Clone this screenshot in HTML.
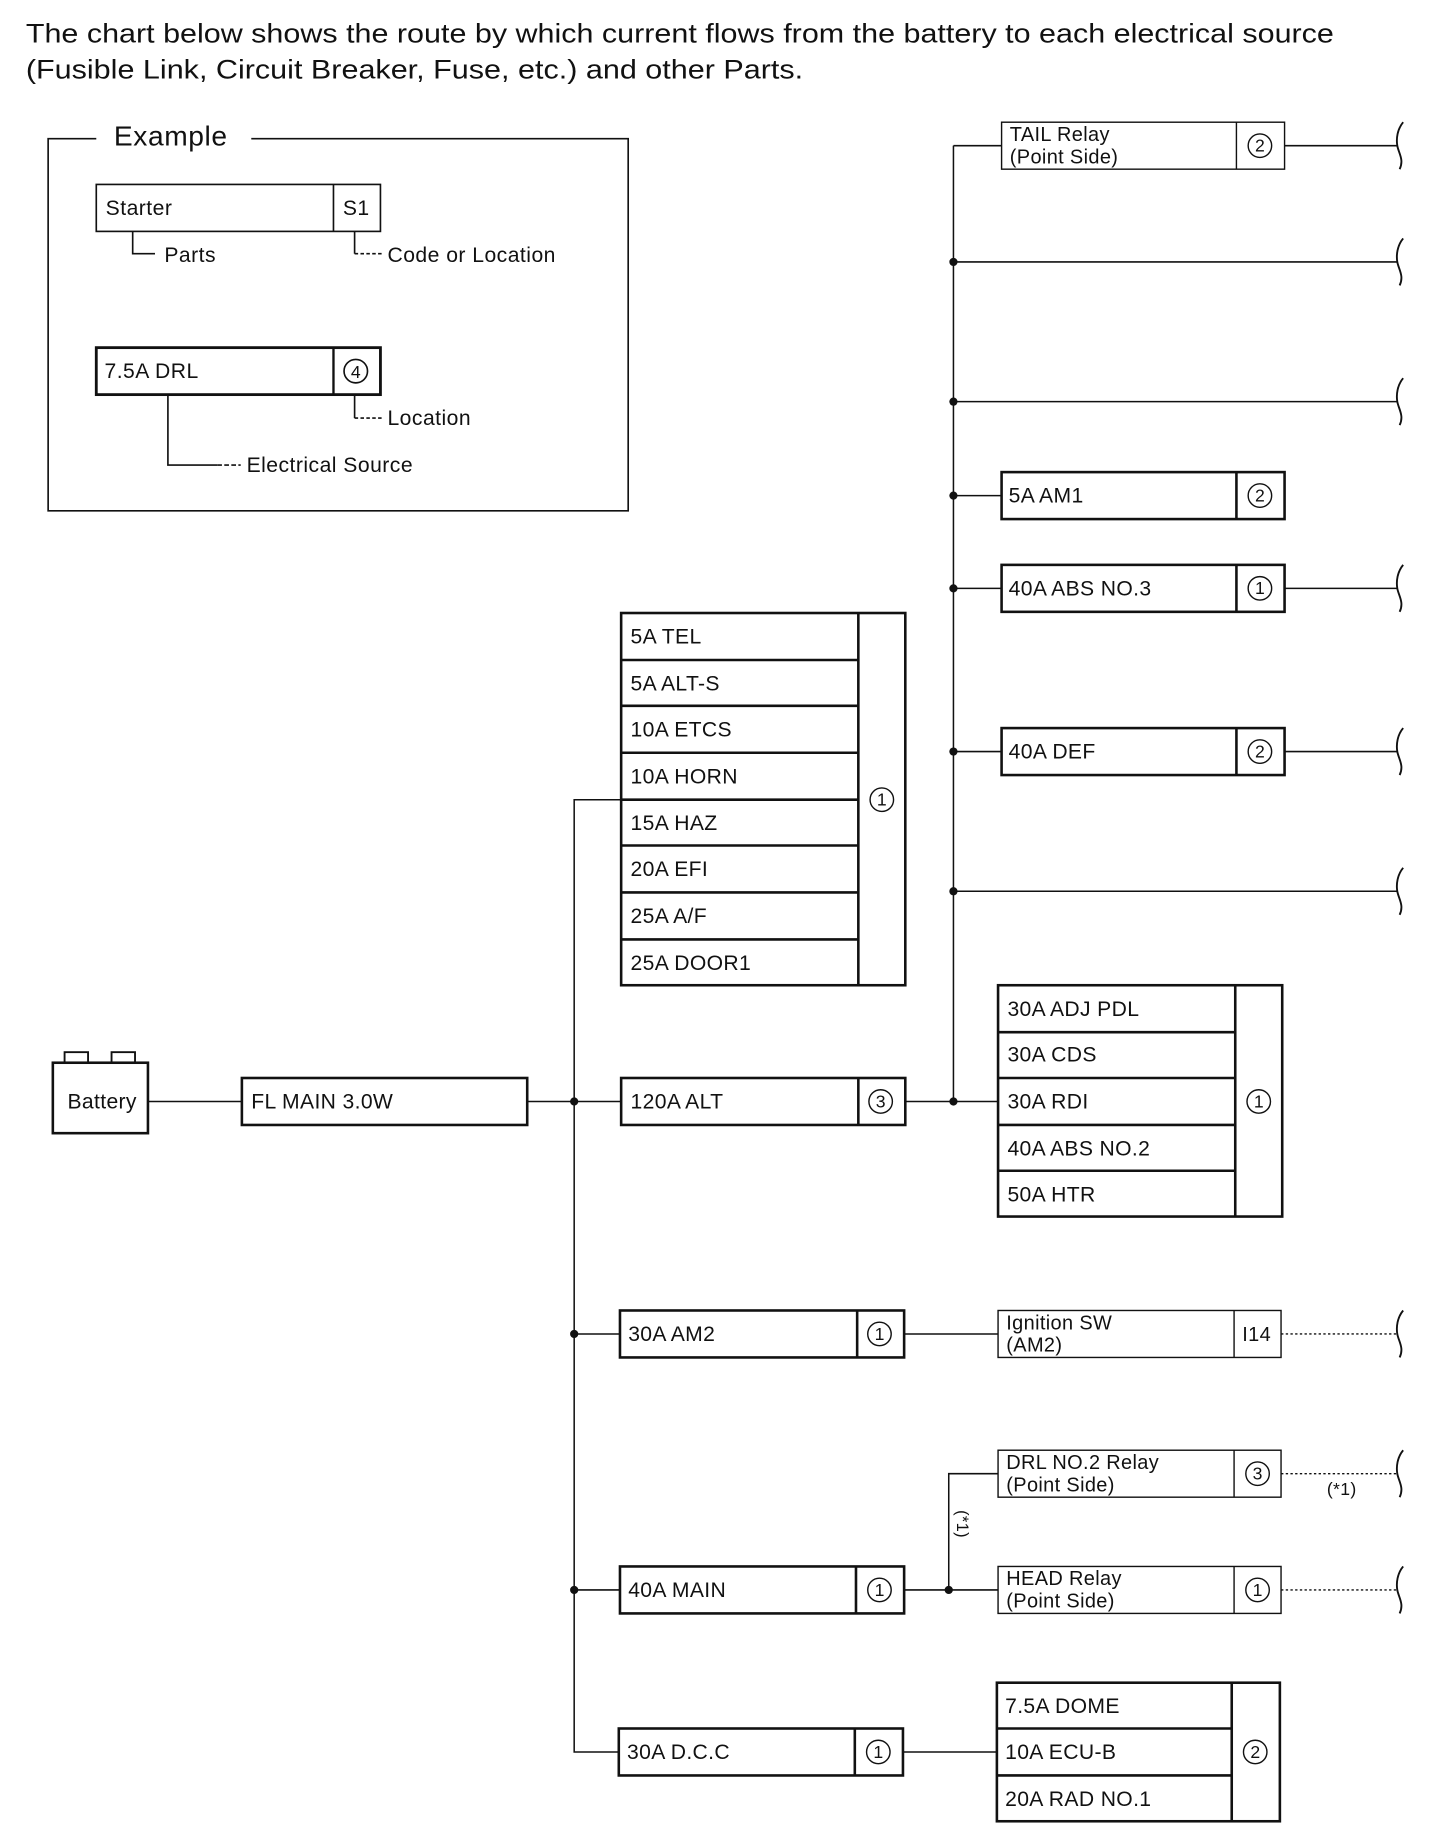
<!DOCTYPE html>
<html><head><meta charset="utf-8"><style>
html,body{margin:0;padding:0;background:#fff;}
svg{display:block;}
text{font-family:"Liberation Sans",Arial,sans-serif;fill:#111;}
</style></head><body>
<svg width="1456" height="1846" viewBox="0 0 1240 1572" xmlns="http://www.w3.org/2000/svg">
<defs>
<g id="sq"><path d="M5,-20 C0,-14 -1,-6 0,0 C1,6 6,12 2,20" fill="none" stroke="#111" stroke-width="1.6"/></g>
</defs>
<g font-size="22.5">
<text x="22" y="36" textLength="1114" lengthAdjust="spacingAndGlyphs">The chart below shows the route by which current flows from the battery to each electrical source</text>
<text x="22" y="67" textLength="662" lengthAdjust="spacingAndGlyphs">(Fusible Link, Circuit Breaker, Fuse, etc.) and other Parts.</text>
</g>
<g fill="none" stroke="#111" stroke-width="1.4">
<path d="M82,118 H41 V435 H535 V118 H214"/>
<rect x="82" y="157" width="242" height="40"/><line x1="284" y1="157" x2="284" y2="197"/>
<path d="M113,197 V216 H132"/>
<path d="M302,197 V216"/><path d="M302,216 H325" stroke-dasharray="3,2"/>
<rect x="82" y="296" width="242" height="40" stroke-width="2.4"/><line x1="284" y1="296" x2="284" y2="336" stroke-width="2"/>
<circle cx="303" cy="316" r="10"/>
<path d="M302,336 V356"/><path d="M302,356 H325" stroke-dasharray="3,2"/>
<path d="M143,336 V396 H185"/><path d="M185,396 H205" stroke-dasharray="4,2"/>
</g>
<text x="97" y="124" font-size="24" letter-spacing="0.5">Example</text>
<g font-size="18" letter-spacing="0.4">
<text x="90" y="183">Starter</text><text x="292" y="183">S1</text>
<text x="140" y="223">Parts</text><text x="330" y="223">Code or Location</text>
<text x="89" y="322">7.5A DRL</text><text x="303" y="322" text-anchor="middle" font-size="15" letter-spacing="0">4</text>
<text x="330" y="362">Location</text><text x="210" y="402">Electrical Source</text>
</g>

<g stroke="#111" stroke-width="1.3" fill="none">
<line x1="812" y1="124" x2="812" y2="938"/>
<line x1="812" y1="124" x2="853" y2="124"/>
<line x1="1094" y1="124" x2="1190" y2="124"/>
<line x1="812" y1="223" x2="1190" y2="223"/>
<line x1="812" y1="342" x2="1190" y2="342"/>
<line x1="812" y1="422" x2="853" y2="422"/>
<line x1="812" y1="501" x2="853" y2="501"/><line x1="1094" y1="501" x2="1190" y2="501"/>
<line x1="812" y1="640" x2="853" y2="640"/><line x1="1094" y1="640" x2="1190" y2="640"/>
<line x1="812" y1="759" x2="1190" y2="759"/>
<path d="M529,681 H489 V1492 H528"/>
<line x1="126" y1="938" x2="206" y2="938"/>
<line x1="449" y1="938" x2="529" y2="938"/>
<line x1="771" y1="938" x2="850" y2="938"/>
<line x1="489" y1="1136" x2="528" y2="1136"/>
<line x1="770" y1="1136" x2="850" y2="1136"/>
<line x1="489" y1="1354" x2="528" y2="1354"/>
<line x1="770" y1="1354" x2="850" y2="1354"/>
<path d="M850,1255 H808 V1354"/>
<line x1="769" y1="1492" x2="849" y2="1492"/>
</g>
<g stroke="#111" stroke-width="1.2" stroke-dasharray="2,2">
<line x1="1091" y1="1136" x2="1190" y2="1136"/>
<line x1="1091" y1="1255" x2="1190" y2="1255"/>
<line x1="1091" y1="1354" x2="1190" y2="1354"/>
</g>
<g fill="#111">
<circle cx="812" cy="223" r="3.5"/><circle cx="812" cy="342" r="3.5"/><circle cx="812" cy="422" r="3.5"/>
<circle cx="812" cy="501" r="3.5"/><circle cx="812" cy="640" r="3.5"/><circle cx="812" cy="759" r="3.5"/>
<circle cx="812" cy="938" r="3.5"/><circle cx="489" cy="938" r="3.5"/><circle cx="489" cy="1136" r="3.5"/>
<circle cx="489" cy="1354" r="3.5"/><circle cx="808" cy="1354" r="3.5"/>
</g>
<g>
<use href="#sq" x="1190" y="124"/><use href="#sq" x="1190" y="223"/><use href="#sq" x="1190" y="342"/>
<use href="#sq" x="1190" y="501"/><use href="#sq" x="1190" y="640"/><use href="#sq" x="1190" y="759"/>
<use href="#sq" x="1190" y="1136"/><use href="#sq" x="1190" y="1255"/><use href="#sq" x="1190" y="1354"/>
</g>

<g fill="none" stroke="#111">
<g stroke-width="1.2">
<rect x="853" y="104" width="241" height="40"/><line x1="1053" y1="104" x2="1053" y2="144"/>
<rect x="850" y="1116" width="241" height="40"/><line x1="1051" y1="1116" x2="1051" y2="1156"/>
<rect x="850" y="1235" width="241" height="40"/><line x1="1051" y1="1235" x2="1051" y2="1275"/>
<rect x="850" y="1334" width="241" height="40"/><line x1="1051" y1="1334" x2="1051" y2="1374"/>
</g>
<g stroke-width="2.2">
<rect x="853" y="402" width="241" height="40"/><line x1="1053" y1="402" x2="1053" y2="442"/>
<rect x="853" y="481" width="241" height="40"/><line x1="1053" y1="481" x2="1053" y2="521"/>
<rect x="853" y="620" width="241" height="40"/><line x1="1053" y1="620" x2="1053" y2="660"/>
<rect x="529" y="522" width="242" height="317"/><line x1="731" y1="522" x2="731" y2="839"/>
<line x1="529" y1="562" x2="731" y2="562"/><line x1="529" y1="601" x2="731" y2="601"/>
<line x1="529" y1="641" x2="731" y2="641"/><line x1="529" y1="681" x2="731" y2="681"/>
<line x1="529" y1="720" x2="731" y2="720"/><line x1="529" y1="760" x2="731" y2="760"/>
<line x1="529" y1="800" x2="731" y2="800"/>
<rect x="45" y="905" width="81" height="60"/>
<rect x="55" y="896" width="20" height="9" stroke-width="1.6"/><rect x="95" y="896" width="20" height="9" stroke-width="1.6"/>
<rect x="206" y="918" width="243" height="40"/>
<rect x="529" y="918" width="242" height="40"/><line x1="731" y1="918" x2="731" y2="958"/>
<rect x="850" y="839" width="242" height="197"/><line x1="1052" y1="839" x2="1052" y2="1036"/>
<line x1="850" y1="879" x2="1052" y2="879"/><line x1="850" y1="918" x2="1052" y2="918"/>
<line x1="850" y1="958" x2="1052" y2="958"/><line x1="850" y1="997" x2="1052" y2="997"/>
<rect x="528" y="1116" width="242" height="40"/><line x1="730" y1="1116" x2="730" y2="1156"/>
<rect x="528" y="1334" width="242" height="40"/><line x1="729" y1="1334" x2="729" y2="1374"/>
<rect x="527" y="1472" width="242" height="40"/><line x1="728" y1="1472" x2="728" y2="1512"/>
<rect x="849" y="1433" width="241" height="118"/><line x1="1049" y1="1433" x2="1049" y2="1551"/>
<line x1="849" y1="1472" x2="1049" y2="1472"/><line x1="849" y1="1512" x2="1049" y2="1512"/>
</g>
<g stroke-width="1.2">
<circle cx="1073" cy="124" r="10"/><circle cx="1073" cy="422" r="10"/><circle cx="1073" cy="501" r="10"/>
<circle cx="1073" cy="640" r="10"/><circle cx="751" cy="681" r="10"/><circle cx="750" cy="938" r="10"/>
<circle cx="1072" cy="938" r="10"/><circle cx="749" cy="1136" r="10"/><circle cx="1071" cy="1255" r="10"/>
<circle cx="749" cy="1354" r="10"/><circle cx="1071" cy="1354" r="10"/><circle cx="748" cy="1492" r="10"/>
<circle cx="1069" cy="1492" r="10"/>
</g>
</g>
<g font-size="15" text-anchor="middle">
<text x="1073" y="129">2</text><text x="1073" y="427">2</text><text x="1073" y="506">1</text>
<text x="1073" y="645">2</text><text x="751" y="686">1</text><text x="750" y="943">3</text>
<text x="1072" y="943">1</text><text x="749" y="1141">1</text><text x="1071" y="1260">3</text>
<text x="749" y="1359">1</text><text x="1071" y="1359">1</text><text x="748" y="1497">1</text>
<text x="1069" y="1497">2</text>
</g>
<g font-size="18" letter-spacing="0.3">
<text x="860" y="120" font-size="17">TAIL Relay</text><text x="860" y="139" font-size="17">(Point Side)</text>
<text x="859" y="428">5A AM1</text><text x="859" y="507">40A ABS NO.3</text><text x="859" y="646">40A DEF</text>
<text x="537" y="548">5A TEL</text><text x="537" y="588">5A ALT-S</text><text x="537" y="627">10A ETCS</text>
<text x="537" y="667">10A HORN</text><text x="537" y="707">15A HAZ</text><text x="537" y="746">20A EFI</text>
<text x="537" y="786">25A A/F</text><text x="537" y="826">25A DOOR1</text>
<text x="87" y="944" text-anchor="middle">Battery</text>
<text x="214" y="944">FL MAIN 3.0W</text><text x="537" y="944">120A ALT</text>
<text x="858" y="865">30A ADJ PDL</text><text x="858" y="904">30A CDS</text><text x="858" y="944">30A RDI</text>
<text x="858" y="984">40A ABS NO.2</text><text x="858" y="1023">50A HTR</text>
<text x="535" y="1142">30A AM2</text>
<text x="857" y="1132" font-size="17">Ignition SW</text><text x="857" y="1151" font-size="17">(AM2)</text>
<text x="1058" y="1142" font-size="17">I14</text>
<text x="857" y="1251" font-size="17">DRL NO.2 Relay</text><text x="857" y="1270" font-size="17">(Point Side)</text>
<text x="1130" y="1273" font-size="15">(*1)</text>
<text x="535" y="1360">40A MAIN</text>
<text x="857" y="1350" font-size="17">HEAD Relay</text><text x="857" y="1369" font-size="17">(Point Side)</text>
<text x="534" y="1498">30A D.C.C</text>
<text x="856" y="1459">7.5A DOME</text><text x="856" y="1498">10A ECU-B</text><text x="856" y="1538">20A RAD NO.1</text>
<text x="0" y="0" font-size="14" transform="translate(815,1286) rotate(90)">(*1)</text>
</g>
</svg>
</body></html>
